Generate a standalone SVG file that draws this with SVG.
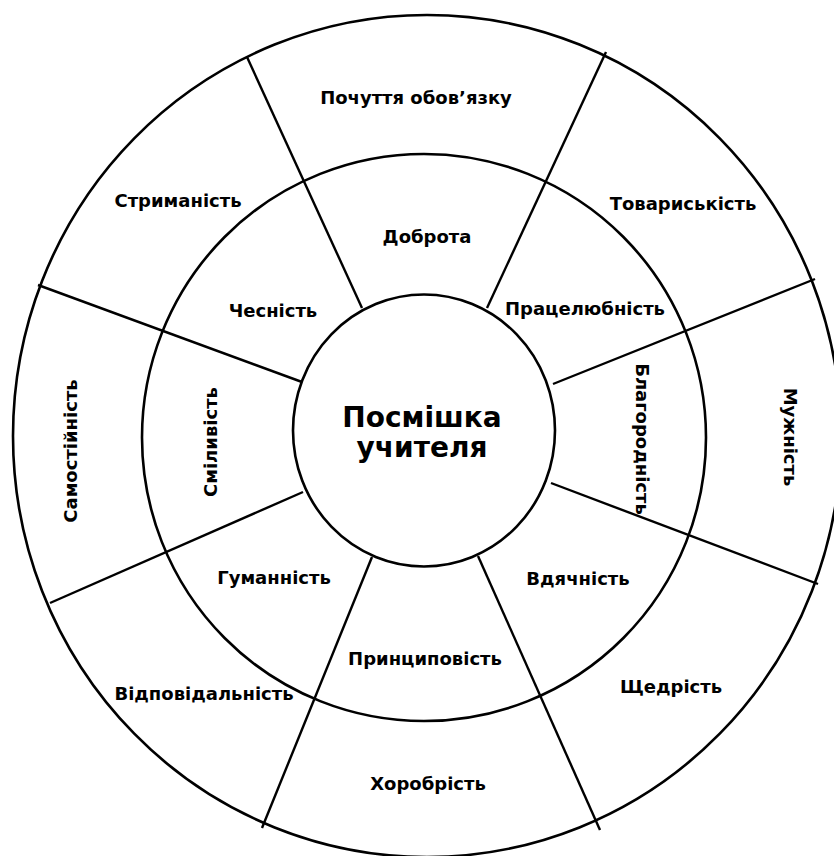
<svg xmlns="http://www.w3.org/2000/svg" width="834" height="856" viewBox="0 0 834 856">
<style>
.ring{fill:none;stroke:#000;stroke-width:2.6}
.sep{stroke:#000;stroke-width:2.4;fill:none}
text{font-family:"DejaVu Sans","Noto Sans",sans-serif;font-weight:bold;fill:#000;text-anchor:middle;dominant-baseline:central}
.s{font-size:18px}
.c{font-size:28px}
</style>
<rect width="834" height="856" fill="#fff"/>
<g id="outer-circle"><ellipse class="ring" cx="427" cy="436" rx="414" ry="421"/></g>
<g id="middle-circle"><ellipse class="ring" cx="424" cy="437.5" rx="282" ry="283.5"/></g>
<g id="connectors">
<line class="sep" x1="362" y1="308" x2="247" y2="57"/>
<line class="sep" x1="487" y1="308" x2="606" y2="52"/>
<line class="sep" x1="553" y1="384" x2="815" y2="279"/>
<line class="sep" x1="551" y1="483" x2="818" y2="584"/>
<line class="sep" x1="478" y1="556" x2="600" y2="830"/>
<line class="sep" x1="372" y1="557" x2="262" y2="828"/>
<line class="sep" x1="303" y1="492" x2="50" y2="603"/>
<line class="sep" x1="302" y1="382" x2="38" y2="285"/>
</g>
<g id="center"><ellipse class="ring" cx="424" cy="430.5" rx="131" ry="136" fill="#fff"/>
<text class="c" x="422" y="417">Посмішка</text>
<text class="c" x="422" y="447">учителя</text></g>
<g id="n-dobrota"><text class="s" x="427" y="236">Доброта</text></g>
<g id="n-pratselyubnist"><text class="s" x="585" y="308">Працелюбність</text></g>
<g id="n-blagorodnist"><text class="s" transform="translate(642,439) rotate(90)">Благородність</text></g>
<g id="n-vdyachnist"><text class="s" x="578" y="578">Вдячність</text></g>
<g id="n-pryntsypovist"><text class="s" x="425" y="658">Принциповість</text></g>
<g id="n-gumannist"><text class="s" x="274" y="577">Гуманність</text></g>
<g id="n-smilyvist"><text class="s" transform="translate(210,442) rotate(-90)">Сміливість</text></g>
<g id="n-chesnist"><text class="s" x="273" y="310">Чесність</text></g>
<g id="n-pochuttya"><text class="s" x="416" y="97">Почуття обов’язку</text></g>
<g id="n-tovaryskist"><text class="s" x="683" y="203">Товариськість</text></g>
<g id="n-muzhnist"><text class="s" transform="translate(790,437) rotate(90)">Мужність</text></g>
<g id="n-shchedrist"><text class="s" x="671" y="686">Щедрість</text></g>
<g id="n-khorobrist"><text class="s" x="428" y="783">Хоробрість</text></g>
<g id="n-vidpovidalnist"><text class="s" x="204" y="693">Відповідальність</text></g>
<g id="n-samostiynist"><text class="s" transform="translate(70,451) rotate(-90)">Самостійність</text></g>
<g id="n-strymanist"><text class="s" x="178" y="200">Стриманість</text></g>
</svg>
